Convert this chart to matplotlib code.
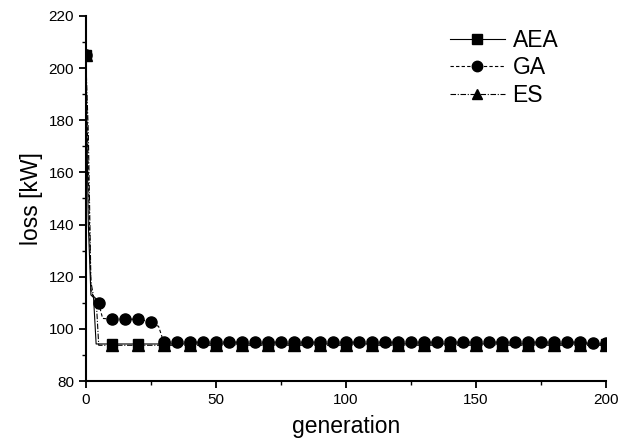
import matplotlib
matplotlib.use("Agg")
import matplotlib.pyplot as plt
from matplotlib.ticker import MultipleLocator

plt.rcParams['font.family'] = ['Liberation Sans', 'DejaVu Sans']

# ---- data ----
# line breakpoints
aea_gen = [0, 1, 2, 3, 4, 200]
aea_val = [205, 140, 113, 112, 94.2, 94.2]

ga_gen = [0, 1, 2, 3, 4, 5, 6.5, 10, 15, 20, 25, 26.5, 28, 30, 190, 195, 200]
ga_val = [205, 160, 115, 112, 111, 109.8, 104, 103.7, 103.7, 103.7, 102.8, 101.5, 101, 94.9, 94.9, 94.4, 94.4]

es_gen = [0, 1, 2, 3, 4, 5, 200]
es_val = [205, 175, 118, 112.5, 111.5, 93.7, 93.7]

# markers
aea_mk_gen = [0, 10, 20, 30, 40, 50, 60, 70, 80, 90, 100, 110, 120, 130, 140, 150, 160, 170, 180, 190, 200]
aea_mk_val = [205, 94.2, 94.2, 94.2, 94.2, 94.2, 94.2, 94.2, 94.2, 94.2, 94.2, 94.2, 94.2, 94.2, 94.2, 94.2, 94.2, 94.2, 94.2, 94.2, 94.2]

ga_mk_gen = [0, 5, 10, 15, 20, 25, 30, 35, 40, 45, 50, 55, 60, 65, 70, 75, 80, 85, 90, 95, 100,
             105, 110, 115, 120, 125, 130, 135, 140, 145, 150, 155, 160, 165, 170, 175, 180, 185, 190, 195, 200]
ga_mk_val = [205, 109.8, 103.7, 103.7, 103.7, 102.8, 94.9, 94.9, 94.9, 94.9, 94.9, 94.9, 94.9, 94.9, 94.9, 94.9,
             94.9, 94.9, 94.9, 94.9, 94.9, 94.9, 94.9, 94.9, 94.9, 94.9, 94.9, 94.9, 94.9, 94.9, 94.9, 94.9,
             94.9, 94.9, 94.9, 94.9, 94.9, 94.9, 94.9, 94.4, 94.4]

es_mk_gen = [0, 10, 20, 30, 40, 50, 60, 70, 80, 90, 100, 110, 120, 130, 140, 150, 160, 170, 180, 190, 200]
es_mk_val = [205, 93.9, 93.9, 93.9, 93.9, 93.9, 93.9, 93.9, 93.9, 93.9, 93.9, 93.9, 93.9, 93.9, 93.9, 93.9, 93.9, 93.9, 93.9, 93.9, 93.9]

labels = ['AEA', 'GA', 'ES']

fig = plt.figure(figsize=(6.35, 4.42), dpi=100)
ax = fig.add_axes([0.135, 0.138, 0.819, 0.826])

lw = 0.8
ax.plot(aea_gen, aea_val, color='black', lw=lw, ls='-')
ax.plot(ga_gen, ga_val, color='black', lw=lw, ls=(0, (3, 2)))
ax.plot(es_gen, es_val, color='black', lw=lw, ls=(0, (5, 1.5, 1, 1.5)))

ax.plot(aea_mk_gen, aea_mk_val, ls='none', marker='s', ms=7.5, color='black')
ax.plot(ga_mk_gen, ga_mk_val, ls='none', marker='o', ms=8, color='black')
ax.plot(es_mk_gen, es_mk_val, ls='none', marker='^', ms=8, color='black')

# legend proxies
h1, = ax.plot([], [], color='black', lw=lw, ls='-', marker='s', ms=6.5)
h2, = ax.plot([], [], color='black', lw=lw, ls=(0, (3, 2)), marker='o', ms=7.5)
h3, = ax.plot([], [], color='black', lw=lw, ls=(0, (5, 1.5, 1, 1.5)), marker='^', ms=7.5)
fig.legend([h1, h2, h3], labels, loc='upper left', bbox_to_anchor=(0.708, 0.935),
           frameon=False, fontsize=16.5, handlelength=2.4, handletextpad=0.35,
           labelspacing=0.2, borderpad=0, borderaxespad=0)

ax.set_xlim(0, 200)
ax.set_ylim(80, 220)
ax.xaxis.set_major_locator(MultipleLocator(50))
ax.xaxis.set_minor_locator(MultipleLocator(25))
ax.yaxis.set_major_locator(MultipleLocator(20))
ax.yaxis.set_minor_locator(MultipleLocator(10))

for s in ['top', 'right']:
    ax.spines[s].set_visible(False)
for s in ['left', 'bottom']:
    ax.spines[s].set_linewidth(1.5)

ax.tick_params(which='major', direction='out', length=5, width=1.3, labelsize=11)
ax.tick_params(which='minor', direction='out', length=3, width=1.0)

ax.set_xlabel('generation', fontsize=16.5, labelpad=6)
ax.set_ylabel('loss [kW]', fontsize=16.5, labelpad=4)

fig.savefig('out.png', dpi=100)
